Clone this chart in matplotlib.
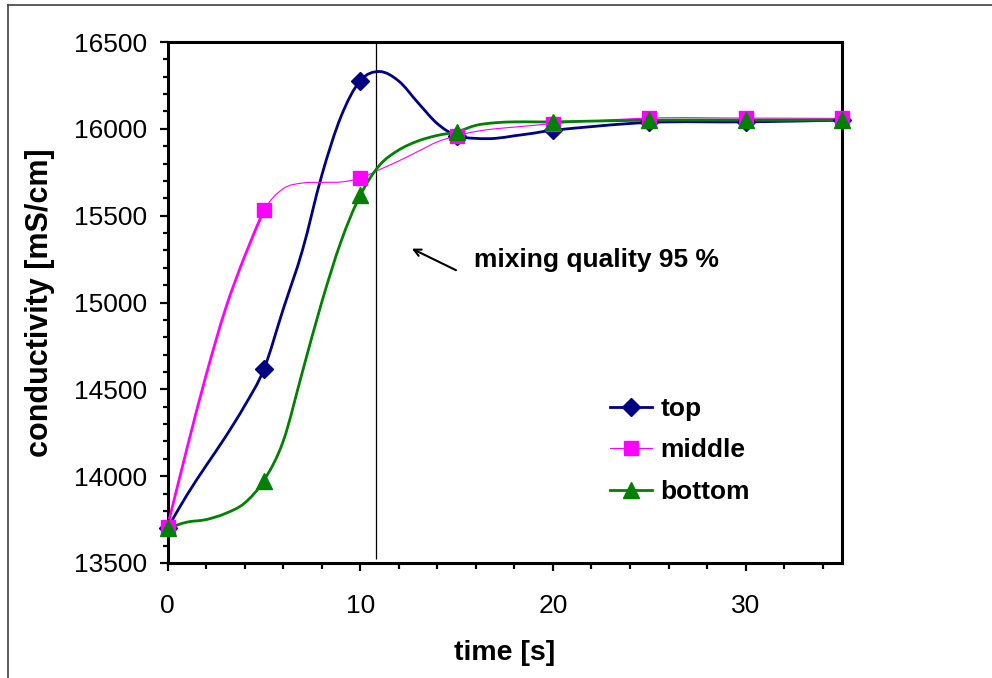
import matplotlib
matplotlib.use("Agg")
import matplotlib.pyplot as plt
from matplotlib.path import Path
from matplotlib.patches import PathPatch
from matplotlib.lines import Line2D
from matplotlib.ticker import MultipleLocator

plt.rcParams["font.family"] = ["Liberation Sans", "DejaVu Sans"]

# curve values, 1 s steps up to 20 s, then every 5 s
t = [0, 1, 2, 3, 4, 5, 6, 7, 8, 9, 10, 11, 12, 13, 14, 15, 16, 17, 18, 19, 20, 25, 30, 35]
top = [13700, 13890, 14060, 14225, 14405, 14615, 14960, 15300, 15730, 16070, 16277, 16330,
       16275, 16150, 16030, 15960, 15945, 15945, 15960, 15975, 15992, 16037, 16040, 16050]
middle = [13710, 14155, 14580, 14960, 15265, 15530, 15655, 15688, 15692, 15694, 15715, 15765,
          15815, 15870, 15925, 15960, 15985, 16000, 16010, 16020, 16030, 16062, 16062, 16060]
bottom = [13700, 13735, 13750, 13785, 13845, 13975, 14200, 14600, 15000, 15350, 15617, 15790,
          15878, 15930, 15962, 15982, 16020, 16035, 16040, 16040, 16040, 16050, 16050, 16050]
# markers sit on the measured times 0, 5, ..., 35
marker_idx = [0, 5, 10, 15, 20, 21, 22, 23]

mix_time = 10.83


def smooth_path(x, y):
    # Excel-like smoothed line: cubic Bezier through every point
    n = len(x)
    slopes = []
    for i in range(n):
        a = max(i - 1, 0)
        b = min(i + 1, n - 1)
        slopes.append((y[b] - y[a]) / (x[b] - x[a]))
    verts = [(x[0], y[0])]
    codes = [Path.MOVETO]
    for i in range(n - 1):
        h = x[i + 1] - x[i]
        verts += [(x[i] + h / 3, y[i] + slopes[i] * h / 3),
                  (x[i + 1] - h / 3, y[i + 1] - slopes[i + 1] * h / 3),
                  (x[i + 1], y[i + 1])]
        codes += [Path.CURVE4] * 3
    return Path(verts, codes)


fig = plt.figure(figsize=(9.92, 6.78), dpi=100)
ax = fig.add_axes([167.5 / 992, 115 / 678, 674.5 / 992, 521 / 678])

series = [
    ("top", top, "#000080", 2.0, "D", 9.5),
    ("middle", middle, "#FF00FF", 0.8, "s", 9.5),
    ("bottom", bottom, "#008000", 2.0, "^", 11),
]

handles = []
for name, vals, color, lw, marker, ms in series:
    ax.add_patch(PathPatch(smooth_path(t, vals), fill=False, edgecolor=color, lw=lw, zorder=3))
    if name == "middle":
        # first segment of the middle curve is drawn heavier in the original
        ax.add_patch(PathPatch(smooth_path(t[:6], vals[:6]), fill=False, edgecolor=color,
                               lw=2.0, zorder=3))
    ax.plot(t, vals, ls="none", marker=marker, ms=ms, color=color, mec=color,
            markevery=marker_idx, zorder=4, clip_on=False)
    handles.append(Line2D([], [], color=color, lw=lw, marker=marker, ms=ms, mec=color))

ax.vlines(mix_time, 13525, 16500, color="black", lw=0.9, zorder=2)

ax.set_xlim(0, 35)
ax.set_ylim(13500, 16500)
ax.xaxis.set_major_locator(MultipleLocator(10))
ax.xaxis.set_minor_locator(MultipleLocator(2))
ax.yaxis.set_major_locator(MultipleLocator(500))
ax.yaxis.set_minor_locator(MultipleLocator(100))
ax.tick_params(which="both", direction="out", width=1.6, labelsize=19, color="black")
ax.tick_params(axis="y", which="major", length=6, pad=9)
ax.tick_params(axis="y", which="minor", length=3.5)
ax.tick_params(axis="x", which="major", length=6, pad=16)
ax.tick_params(axis="x", which="minor", length=4)
for sp in ax.spines.values():
    sp.set_linewidth(2.2)

ax.set_xlabel("time [s]", fontsize=20.5, fontweight="bold", labelpad=16)
ax.set_ylabel("conductivity [mS/cm]", fontsize=22, fontweight="bold", labelpad=13)

ax.annotate("", xy=(12.55, 15317), xytext=(15.1, 15179),
            arrowprops=dict(arrowstyle="->,head_length=0.5,head_width=0.25", color="black", lw=1.5))
ax.text(15.88, 15242, "mixing quality 95 %", fontsize=19, fontweight="bold",
        ha="left", va="center")

ax.legend(handles, ["top", "middle", "bottom"], loc="upper left", frameon=False,
          bbox_to_anchor=(610 / 992, 1 - 397 / 678), bbox_transform=fig.transFigure,
          prop=dict(size=19, weight="bold"), handlelength=1.6, handletextpad=0.3,
          labelspacing=0.66, borderpad=0, borderaxespad=0)

# outer chart frame (only top and left edges show in the original)
fig.add_artist(Line2D([8 / 992, 8 / 992], [0, 1 - 5 / 678], transform=fig.transFigure,
                      color="#404040", lw=1.2))
fig.add_artist(Line2D([8 / 992, 1], [1 - 5 / 678, 1 - 5 / 678], transform=fig.transFigure,
                      color="#404040", lw=1.2))

fig.savefig("out.png", dpi=100)
